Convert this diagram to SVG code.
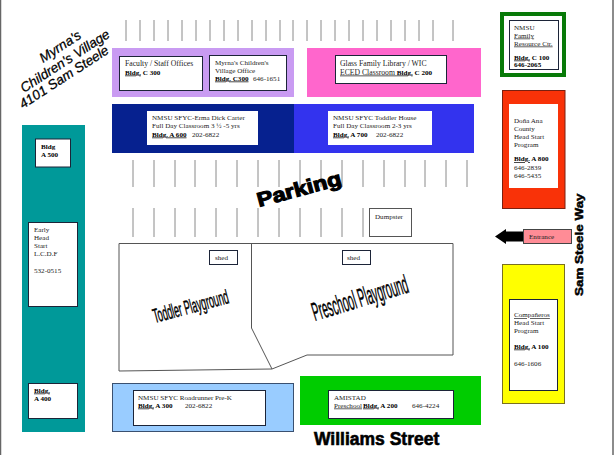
<svg xmlns="http://www.w3.org/2000/svg" width="614" height="455" viewBox="0 0 614 455">
<style>
text{font-family:"Liberation Serif",serif;font-size:7.1px;fill:#222}
.w{font-size:7.7px}
.b{font-weight:bold;fill:#000}
.u{text-decoration:underline}
.box{fill:#fff;stroke:#1c2438;stroke-width:1}
.h{font-family:"Liberation Sans",Arial,sans-serif;font-style:italic;fill:#000;stroke:#000;stroke-width:.25;font-size:13.5px}
.k{font-family:"Liberation Sans",Arial,sans-serif;font-weight:bold;fill:#000;stroke:#000}
.p{font-family:"Liberation Sans",Arial,sans-serif;fill:#000;stroke:#000;stroke-width:.45}
.stall{stroke:#8a8a8a;stroke-width:1;fill:none}
.wall{stroke:#555;stroke-width:1;fill:none}
</style>
<rect width="614" height="455" fill="#fff"/>
<path d="M0.500 0V455" stroke="#666" stroke-width="1.500"/>
<path d="M613 0V455" stroke="#666" stroke-width="1.500"/>
<g id="connectors">
<path class="stall" d="M126 20v21M140 20v21M154 20v21M168 20v21M182 20v21M196 20v21M210 20v21M224 20v21M238 20v21M252 20v21M266 20v21M280 20v21M293 20v21M307 20v21M321 20v21M335 20v21M349 20v21M363 20v21M377 20v21M391 20v21M405 20v21M419 20v21M433 20v21M453 20v21"/>
<path class="stall" d="M133 160v27M154 160v27M175 160v27M195 160v27M216 160v27M237 160v27M258 160v27M279 160v27M300 160v27M321 160v27M342 160v27M363 160v27M384 160v27M405 160v27M425 160v27M446 160v27M467 160v27"/>
<path class="stall" d="M133 208v29M154 208v29M175 208v29M195 208v29M216 208v29M237 208v29M258 208v29M279 208v29M300 208v29M321 208v29M342 208v29M363 208v29"/>
<path class="wall" d="M119 371V243.500H453V355H307L272 369L119 371M251.500 243V328L272 369"/>
<path d="M523 231.500H506V229L495 236.500L506 244V241.500H523Z" fill="#000"/>
</g>
<g id="faculty-block"><rect x="112" y="48" width="182" height="49" fill="#c99bf2"/></g>
<g id="c300-faculty"><rect class="box" x="119.500" y="56.500" width="83" height="34"/><text class="w" x="125" y="66">Faculty / Staff Offices</text><text x="125" y="74.500"><tspan class="b u">Bldg.</tspan><tspan class="b"> C 300</tspan></text></g>
<g id="c300-village"><rect class="box" x="209.500" y="55.500" width="77" height="35"/><text x="215" y="64.500">Myrna's Children's</text><text x="215" y="72.500">Village Office</text><text x="215" y="80.500"><tspan class="b u">Bldg. C300</tspan><tspan x="253">646-1651</tspan></text></g>
<g id="c200"><rect x="307" y="48" width="174" height="49" fill="#ff66cc"/><rect class="box" x="335.500" y="55.500" width="111" height="28"/><text class="w" x="340" y="66">Glass Family Library / WIC</text><text class="w" x="340" y="74.500"><tspan class="u">ECED Classroom </tspan><tspan class="b u" style="font-size:7.100px">Bldg.</tspan><tspan class="b" style="font-size:7.100px"> C 200</tspan></text></g>
<g id="a600"><rect x="112" y="104" width="182" height="49" fill="#06218f"/><rect x="147" y="111" width="111" height="34" fill="#fff"/><text x="152" y="120">NMSU SFYC-Erma Dick Carter</text><text x="152" y="128">Full Day Classroom 3 ½ -5 yrs</text><text x="152" y="136.500"><tspan class="b u">Bldg. A 600</tspan><tspan x="192">202-6822</tspan></text></g>
<g id="a700"><rect x="294" y="104" width="180" height="49" fill="#3333ee"/><rect x="328" y="111" width="104" height="34" fill="#fff"/><text x="333" y="120">NMSU SFYC Toddler House</text><text x="333" y="128">Full Day Classroom 2-3 yrs</text><text x="333" y="136.500"><tspan class="b u">Bldg.</tspan><tspan class="b"> A 700</tspan><tspan x="376">202-6822</tspan></text></g>
<g id="c100"><rect x="502" y="14" width="62" height="61" fill="#fff" stroke="#087a08" stroke-width="4"/><rect class="box" x="509.500" y="20.500" width="49" height="49"/><text x="514" y="29.500">NMSU</text><text x="514" y="37.500" class="u">Family</text><text x="514" y="45.500" class="u">Resource Ctr.</text><text x="514" y="59.500"><tspan class="b u">Bldg.</tspan><tspan class="b"> C 100</tspan></text><text x="514" y="67" class="b">646-2065</text></g>
<g id="a800"><rect x="502.500" y="90.500" width="62.500" height="118" fill="#f93208" stroke="#7a2010"/><rect x="509" y="104" width="49" height="84" fill="#fff"/><text x="514" y="122.500">Doña Ana</text><text x="514" y="130.500">County</text><text x="514" y="138.500">Head Start</text><text x="514" y="146.500">Program</text><text x="514" y="161"><tspan class="b u">Bldg.</tspan><tspan class="b"> A 800</tspan></text><text x="514" y="169.500">646-2839</text><text x="514" y="178">646-5435</text></g>
<g id="a500-block"><rect x="22" y="125" width="63" height="307" fill="#009999"/></g>
<g id="a500"><rect class="box" x="35.500" y="139" width="35" height="28"/><text x="41" y="148.500" class="b">Bldg</text><text x="41" y="157" class="b">A 500</text></g>
<g id="early-head-start"><rect class="box" x="28.500" y="222.500" width="49" height="84"/><text x="34" y="232">Early</text><text x="34" y="240">Head</text><text x="34" y="248">Start</text><text x="34" y="256">L.C.D.F</text><text x="34" y="273">532-0515</text></g>
<g id="a400"><rect class="box" x="28.500" y="383.500" width="49" height="35"/><text x="34" y="392.500" class="b u">Bldg.</text><text x="34" y="400.500" class="b">A 400</text></g>
<g id="a100"><rect x="502.500" y="264.500" width="62" height="139" fill="#ffff00" stroke="#7a7020"/><rect class="box" x="509.500" y="299.500" width="48" height="91"/><text x="514" y="317" class="u">Compañeros</text><text x="514" y="325">Head Start</text><text x="514" y="333">Program</text><text x="514" y="348.500"><tspan class="b u">Bldg.</tspan><tspan class="b"> A 100</tspan></text><text x="514" y="366">646-1606</text></g>
<g id="entrance"><rect x="523.500" y="229.500" width="48" height="14" fill="#ff8c96" stroke="#444"/><text x="529" y="239">Entrance</text></g>
<g id="a300"><rect x="112.500" y="383.500" width="181" height="48" fill="#99ccff" stroke="#3a5070"/><rect class="box" x="133.500" y="390.500" width="132" height="35"/><text x="138" y="399.500">NMSU SFYC Roadrunner Pre-K</text><text x="138" y="407.500"><tspan class="b u">Bldg.</tspan><tspan class="b"> A 300</tspan><tspan x="185">202-6822</tspan></text></g>
<g id="a200"><rect x="300" y="376" width="181" height="49" fill="#00cc00"/><rect class="box" x="328.500" y="390.500" width="125" height="28"/><text x="334" y="399.500">AMISTAD</text><text x="334" y="407.500"><tspan class="u">Preschool</tspan><tspan x="363" class="b u">Bldg.</tspan><tspan class="b"> A 200</tspan><tspan x="412">646-4224</tspan></text></g>
<g id="dumpster"><rect x="369.500" y="208.500" width="42" height="28" fill="#fff" stroke="#555"/><text x="375" y="219">Dumpster</text></g>
<g id="shed-1"><rect class="box" x="209.500" y="250.500" width="28" height="14"/><text x="215" y="260">shed</text></g>
<g id="shed-2"><rect class="box" x="342.500" y="250.500" width="28" height="14"/><text x="347" y="260">shed</text></g>
<g id="labels">
<text class="h" transform="translate(43 63) rotate(-33)">Myrna's</text>
<text class="h" transform="translate(24 93) rotate(-33)">Children's Village</text>
<text class="h" transform="translate(23 109) rotate(-33)">4101 Sam Steele</text>
<text class="k" style="font-size:20px;stroke-width:1.100" transform="translate(259 207) rotate(-15) scale(1.18 1)">Parking</text>
<text class="p" style="font-size:20px" transform="translate(155 323) rotate(-15) scale(.45 1)">Toddler Playground</text>
<text class="p" style="font-size:26px" transform="translate(315 321) rotate(-17) scale(.39 1)">Preschool Playground</text>
<text class="k" style="font-size:17.500px;stroke-width:.6" x="314" y="445">Williams Street</text>
<text class="k" style="font-size:11.500px;stroke-width:.5" transform="translate(583 296) rotate(-90) scale(1.17 1)">Sam Steele Way</text>
</g>
</svg>
